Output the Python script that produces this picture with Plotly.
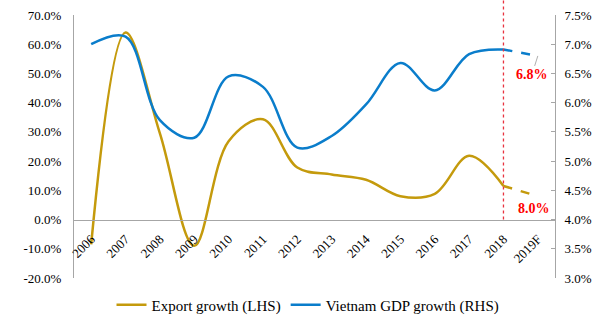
import plotly.graph_objects as go

years = ["2006", "2007", "2008", "2009", "2010", "2011", "2012", "2013",
         "2014", "2015", "2016", "2017", "2018", "2019F"]
export_growth = [-8.5, 64.0, 29.5, -9.0, 26.8, 34.3, 17.8, 15.4, 13.6, 8.0, 8.8, 21.8, 11.5, 8.0]
gdp_growth = [7.00, 7.13, 5.70, 5.40, 6.45, 6.27, 5.23, 5.43, 5.97, 6.68, 6.21, 6.83, 6.91, 6.80]

left_ticks = list(range(-20, 80, 10))
right_ticks = [3.0, 3.5, 4.0, 4.5, 5.0, 5.5, 6.0, 6.5, 7.0, 7.5]

GOLD = "#C49A0C"
BLUE = "#0A7DCB"
FONT = "Liberation Serif, Times New Roman, serif"
AX = "#A6A6A6"

zero_frac = (0 - left_ticks[0]) / (left_ticks[-1] - left_ticks[0])
fc_idx = years.index("2018")
fc_frac = (fc_idx + 0.5) / len(years)

fig = go.Figure()
fig.add_trace(go.Scatter(x=years[:13], y=export_growth[:13], mode="lines",
                         line=dict(color=GOLD, width=2.5, shape="spline", smoothing=1.0),
                         name="Export growth (LHS)"))
fig.add_trace(go.Scatter(x=years[12:], y=export_growth[12:], mode="lines",
                         line=dict(color=GOLD, width=2.5, dash="dash"),
                         showlegend=False))
fig.add_trace(go.Scatter(x=years[:13], y=gdp_growth[:13], mode="lines", yaxis="y2",
                         line=dict(color=BLUE, width=2.5, shape="spline", smoothing=1.0),
                         name="Vietnam GDP growth (RHS)"))
fig.add_trace(go.Scatter(x=years[12:], y=gdp_growth[12:], mode="lines", yaxis="y2",
                         line=dict(color=BLUE, width=2.5, dash="dash"),
                         showlegend=False))

fig.add_shape(type="line", xref="paper", yref="paper", x0=fc_frac, x1=fc_frac,
              y0=zero_frac, y1=1.06,
              line=dict(color="#E8333F", width=1.3, dash="dot"))

fig.add_annotation(x=years[13], y=gdp_growth[13], yref="y2", xref="x",
                   text="<b>%.1f%%</b>" % gdp_growth[13], showarrow=True,
                   ax=-6, ay=19, arrowhead=0, arrowwidth=0.8, arrowcolor="#999999",
                   standoff=0, startstandoff=0,
                   font=dict(family=FONT, size=14, color="#FF0000"))
fig.add_annotation(x=years[13], y=3.8, xref="x", yref="y",
                   text="<b>%.1f%%</b>" % export_growth[13], showarrow=False, xshift=-4,
                   font=dict(family=FONT, size=14, color="#FF0000"))

fig.update_layout(
    width=616, height=324,
    margin=dict(l=74, r=61, t=15, b=46, autoexpand=False),
    plot_bgcolor="white", paper_bgcolor="white",
    font=dict(family=FONT, size=13, color="black"),
    xaxis=dict(type="category", range=[-0.5, 13.5], anchor="free",
               position=zero_frac, automargin=False,
               showline=True, linecolor=AX, linewidth=1, showgrid=False,
               tickangle=-45, ticks="", ticklabelstandoff=6,
               tickfont=dict(family=FONT, size=13)),
    yaxis=dict(range=[left_ticks[0], left_ticks[-1]], tickvals=left_ticks,
               ticktext=["%.1f%%" % v for v in left_ticks], automargin=False,
               showline=True, linecolor=AX, linewidth=1, showgrid=False, zeroline=False,
               ticks="", ticklabelstandoff=9, tickfont=dict(family=FONT, size=13)),
    yaxis2=dict(range=[right_ticks[0], right_ticks[-1]], tickvals=right_ticks,
                ticktext=["%.1f%%" % v for v in right_ticks], automargin=False,
                overlaying="y", side="right", anchor="x",
                showline=True, linecolor=AX, linewidth=1, showgrid=False, zeroline=False,
                ticks="inside", ticklen=4, tickcolor=AX, ticklabelstandoff=6,
                tickfont=dict(family=FONT, size=13)),
    legend=dict(orientation="h", xref="container", yref="container",
                x=0.5, xanchor="center", y=(324 - 305) / 324, yanchor="middle",
                font=dict(family=FONT, size=15), bgcolor="rgba(0,0,0,0)"),
    showlegend=True,
)

fig.write_html("out.html")
